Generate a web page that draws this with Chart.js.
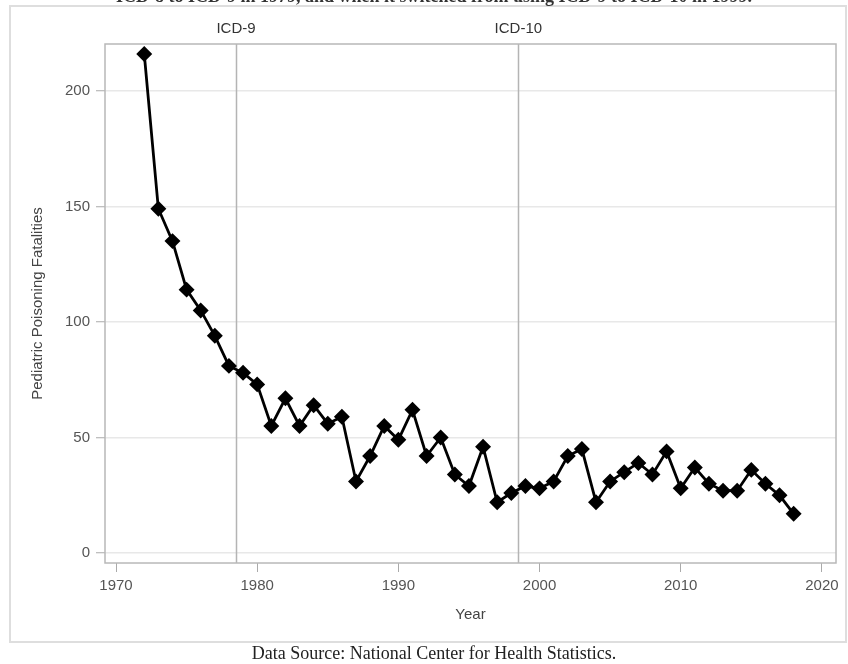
<!DOCTYPE html>
<html>
<head>
<meta charset="utf-8">
<script src="https://cdn.jsdelivr.net/npm/chart.js@4"></script>
<style>
  body { margin: 0; background: #fff; }
  #wrap { width: 848px; height: 664px; }
</style>
</head>
<body>
<div id="wrap"><canvas id="grafico" width="848" height="664"></canvas></div>
<script>
// datos
const years = [1972, 1973, 1974, 1975, 1976, 1977, 1978, 1979, 1980, 1981,
    1982, 1983, 1984, 1985, 1986, 1987, 1988, 1989, 1990, 1991,
    1992, 1993, 1994, 1995, 1996, 1997, 1998, 1999, 2000, 2001,
    2002, 2003, 2004, 2005, 2006, 2007, 2008, 2009, 2010, 2011,
    2012, 2013, 2014, 2015, 2016, 2017, 2018];
const fatalities = [216, 149, 135, 114, 105, 94, 81, 78, 73, 55,
    67, 55, 64, 56, 59, 31, 42, 55, 49, 62,
    42, 50, 34, 29, 46, 22, 26, 29, 28, 31,
    42, 45, 22, 31, 35, 39, 34, 44, 28, 37,
    30, 27, 27, 36, 30, 25, 17];
const yTicks = [0, 50, 100, 150, 200];
const xTicks = [1970, 1980, 1990, 2000, 2010, 2020];
const icdLines = [1978.5, 1998.5];
const icdLabels = ['ICD-9', 'ICD-10'];

const sans = 'Liberation Sans, Arial, sans-serif';
const serif = 'Liberation Serif, Times New Roman, serif';
const tickFont = { family: sans, size: 15 };

const extras = {
    id: 'extras',
    beforeDatasetsDraw(chart) {
        const ctx = chart.ctx;
        const a = chart.chartArea;
        const x = chart.scales.x;
        ctx.save();
        ctx.strokeStyle = '#b4b4b4';
        ctx.lineWidth = 1.5;
        icdLines.forEach(v => {
            const px = Math.round(x.getPixelForValue(v)) + 0.5;
            ctx.beginPath();
            ctx.moveTo(px, a.top);
            ctx.lineTo(px, a.bottom);
            ctx.stroke();
        });
        ctx.restore();
    },
    afterDraw(chart) {
        const ctx = chart.ctx;
        const a = chart.chartArea;
        const x = chart.scales.x;
        ctx.save();
        // marco exterior
        ctx.strokeStyle = '#dedede';
        ctx.lineWidth = 2;
        ctx.strokeRect(10, 6, 836, 636);
        // borde del area
        ctx.strokeStyle = '#b8b8b8';
        ctx.lineWidth = 1.5;
        ctx.strokeRect(a.left, a.top, a.right - a.left, a.bottom - a.top);

        ctx.fillStyle = '#333';
        ctx.font = '15px ' + sans;
        ctx.textAlign = 'center';
        ctx.textBaseline = 'middle';
        icdLines.forEach((v, i) => {
            ctx.fillText(icdLabels[i], x.getPixelForValue(v), 29);
        });

        ctx.fillStyle = '#444';
        ctx.font = '15px ' + sans;
        ctx.fillText('Year', (a.left + a.right) / 2, 615);
        ctx.save();
        ctx.translate(38, (a.top + a.bottom) / 2);
        ctx.rotate(-Math.PI / 2);
        ctx.fillText('Pediatric Poisoning Fatalities', 0, 0);
        ctx.restore();

        ctx.fillStyle = '#222';
        ctx.font = '18px ' + serif;
        ctx.fillText('Data Source: National Center for Health Statistics.', 434, 654);

        // texto cortado arriba
        ctx.font = 'bold 18px ' + serif;
        ctx.fillStyle = '#333';
        ctx.fillText('ICD-8 to ICD-9 in 1979, and when it switched from using ICD-9 to ICD-10 in 1999.', 434, -3);
        ctx.restore();
    }
};

const ctx = document.getElementById('grafico').getContext('2d');
new Chart(ctx, {
    type: 'line',
    data: {
        datasets: [{
            label: 'Pediatric Poisoning Fatalities',
            data: years.map((y, i) => ({ x: y, y: fatalities[i] })),
            borderColor: '#000',
            backgroundColor: '#000',
            borderWidth: 2.8,
            pointStyle: 'rectRot',
            pointRadius: 6,
            pointHoverRadius: 6,
            tension: 0
        }]
    },
    options: {
        responsive: false,
        animation: false,
        layout: { padding: { left: 10, right: 12, top: 44, bottom: 21 } },
        plugins: {
            legend: { display: false },
            tooltip: { enabled: false }
        },
        scales: {
            x: {
                type: 'linear',
                min: 1969.22,
                max: 2021,
                afterFit: s => { s.height = 80; },
                afterBuildTicks: s => { s.ticks = xTicks.map(v => ({ value: v })); },
                ticks: { font: tickFont, color: '#555', padding: 5, includeBounds: false, maxRotation: 0,
                    callback: v => String(v) },
                grid: { drawOnChartArea: false, tickLength: 9, tickColor: '#aaa', tickWidth: 1 },
                border: { display: false }
            },
            y: {
                min: -4.3,
                max: 220.3,
                afterFit: s => { s.width = 95; },
                afterBuildTicks: s => { s.ticks = yTicks.map(v => ({ value: v })); },
                ticks: { font: tickFont, color: '#555', padding: 6, includeBounds: false },
                grid: { color: '#e8e8e8', lineWidth: 1.5, tickLength: 9, tickColor: '#aaa', tickWidth: 1 },
                border: { display: false }
            }
        }
    },
    plugins: [extras]
});
</script>
</body>
</html>
